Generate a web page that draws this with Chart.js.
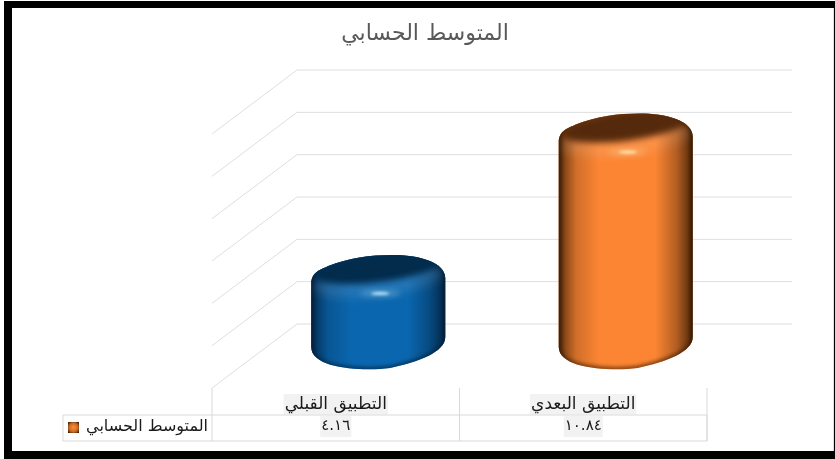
<!DOCTYPE html>
<html>
<head>
<meta charset="utf-8">
<script src="https://cdn.jsdelivr.net/npm/chart.js@4"></script>
<style>
html, body { margin: 0; background: #fff; }
#frame { position: absolute; left: 4px; top: 1px; width: 831px; height: 458px; background: #000; }
#inner { position: absolute; left: 12px; top: 8px; width: 821px; height: 443px; background: #fff; border-right: 1px solid #dcdcdc; }
#holder { position: absolute; left: 0; top: 0; width: 835px; height: 459px; }
</style>
</head>
<body>
<div id="frame"></div>
<div id="inner"></div>
<div id="holder"><canvas id="chart" width="835" height="459"></canvas></div>
<script>
const categories = ['التطبيق القبلي', 'التطبيق البعدي'];
const values = [4.16, 10.84];
const valueLabels = ['٤.١٦', '١٠.٨٤'];
const seriesName = 'المتوسط الحسابي';
const bodyColors = ['#0a66ae', '#fb8533'];
const edgeColors = ['#021f3a', '#3a1c05'];
const capColors = ['#022b4c', '#552a0c'];
const glowColors = ['#c8f0ff', '#fff0b8'];

const FONT = '"DejaVu Sans", sans-serif';
const DEPTH_X = 85, DEPTH_Y = 64;

// rounded outline of the drum, relative to the top and bottom centres
function drumPath(c, x, top, bottom) {
    c.beginPath();
    c.moveTo(x - 67, top + 16);
    c.bezierCurveTo(x - 67, top + 4, x - 58, top + 2, x - 50, top - 2);
    c.bezierCurveTo(x - 30, top - 10, x - 8, top - 13, x + 14, top - 13);
    c.bezierCurveTo(x + 40, top - 13, x + 67, top - 6, x + 67, top + 10);
    c.lineTo(x + 67, bottom - 19);
    c.bezierCurveTo(x + 67, bottom - 4, x + 40, bottom + 6, x + 12, bottom + 12);
    c.bezierCurveTo(x - 12, bottom + 15, x - 67, bottom + 14, x - 67, bottom - 9);
    c.closePath();
}

function paintDrum(c, x, top, bottom, i) {
    c.save();
    drumPath(c, x, top, bottom);
    c.fillStyle = bodyColors[i];
    c.fill();
    c.clip();

    // sides
    const side = c.createLinearGradient(x - 67, 0, x + 67, 0);
    side.addColorStop(0, edgeColors[i] + 'f0');
    side.addColorStop(0.05, edgeColors[i] + '90');
    side.addColorStop(0.13, edgeColors[i] + '38');
    side.addColorStop(0.3, edgeColors[i] + '00');
    side.addColorStop(0.72, edgeColors[i] + '00');
    side.addColorStop(0.88, edgeColors[i] + '60');
    side.addColorStop(0.96, edgeColors[i] + 'b8');
    side.addColorStop(1, edgeColors[i] + 'ff');
    c.fillStyle = side;
    c.fillRect(x - 70, top - 20, 140, bottom - top + 40);

    // soft dark rim along the outline
    c.filter = 'blur(2px)';
    drumPath(c, x, top, bottom);
    c.strokeStyle = edgeColors[i];
    c.lineWidth = 3;
    c.stroke();

    // lighter bevel under the lid
    c.filter = 'blur(5px)';
    c.fillStyle = 'rgba(255,255,255,0.1)';
    c.beginPath();
    c.ellipse(x, top + 12, 66, 17, -0.12, 0, Math.PI * 2);
    c.fill();

    // lid
    c.filter = 'blur(3px)';
    c.fillStyle = capColors[i];
    c.beginPath();
    c.ellipse(x + 1, top - 1, 66, 15, -0.13, 0, Math.PI * 2);
    c.fill();

    // highlight
    c.filter = 'blur(3px)';
    c.fillStyle = glowColors[i];
    c.globalAlpha = 0.5;
    c.beginPath();
    c.ellipse(x + 2, top + 25.5, 20, 2, 0, 0, Math.PI * 2);
    c.fill();
    c.filter = 'blur(1.5px)';
    c.globalAlpha = 1;
    c.beginPath();
    c.ellipse(x + 2, top + 25.5, 9, 1.4, 0, 0, Math.PI * 2);
    c.fill();
    c.restore();
}

const walls = {
    id: 'walls',
    beforeDatasetsDraw(chart) {
        const c = chart.ctx, y = chart.scales.y, a = chart.chartArea;
        c.save();
        c.strokeStyle = '#dedede';
        c.lineWidth = 1;
        y.ticks.forEach(t => {
            const py = y.getPixelForValue(t.value);
            c.beginPath();
            c.moveTo(a.left, py);
            c.lineTo(a.left + DEPTH_X, py - DEPTH_Y);
            c.lineTo(a.right + DEPTH_X, py - DEPTH_Y);
            c.stroke();
        });
        c.restore();
    },
    // the bars stand half way into the floor, painted as drums
    beforeDatasetDraw(chart, args) {
        args.meta.data.forEach((bar, i) => {
            paintDrum(chart.ctx, bar.x + DEPTH_X / 2, bar.y - DEPTH_Y / 2, bar.base - DEPTH_Y / 2, i);
        });
        return false;
    }
};

const dataTable = {
    id: 'dataTable',
    afterDraw(chart) {
        const c = chart.ctx, a = chart.chartArea, x = chart.scales.x;
        const rowTop = 415, rowBottom = 441, keyLeft = 63;
        const edges = [a.left, (a.left + a.right) / 2, a.right];
        c.save();
        c.strokeStyle = '#d9d9d9';
        c.lineWidth = 1;
        edges.forEach(e => {
            c.beginPath();
            c.moveTo(e, a.bottom);
            c.lineTo(e, rowBottom);
            c.stroke();
        });
        c.beginPath();
        c.rect(keyLeft, rowTop, a.right - keyLeft, rowBottom - rowTop);
        c.stroke();

        c.font = '15px ' + FONT;
        c.textAlign = 'center';
        c.textBaseline = 'middle';
        valueLabels.forEach((s, i) => {
            const px = x.getPixelForValue(i), w = c.measureText(s).width;
            c.fillStyle = '#f2f2f2';
            c.fillRect(px - w / 2 - 1, rowTop + 1, w + 2, 21);
            c.fillStyle = '#1a1a1a';
            c.fillText(s, px, 426);
        });
        c.font = '16px ' + FONT;
        c.textAlign = 'right';
        c.fillText(seriesName, 208, 427);

        // legend key
        const key = c.createRadialGradient(73.5, 427.5, 1, 73.5, 427.5, 7.5);
        key.addColorStop(0, bodyColors[1]);
        key.addColorStop(0.5, '#c96a26');
        key.addColorStop(1, '#2a1405');
        c.fillStyle = key;
        c.fillRect(68, 422, 11, 11);
        c.restore();
    }
};

new Chart(document.getElementById('chart'), {
    type: 'bar',
    data: {
        labels: categories,
        datasets: [{
            label: seriesName,
            data: values,
            backgroundColor: bodyColors,
            categoryPercentage: 1,
            barPercentage: 0.54,
            clip: false
        }]
    },
    options: {
        responsive: false,
        animation: false,
        layout: { padding: { left: 143, right: 128, top: 0, bottom: 0 } },
        plugins: {
            legend: { display: false },
            tooltip: { enabled: false },
            title: {
                display: true,
                text: seriesName,
                color: '#595959',
                font: { family: FONT, size: 22, weight: 'normal' },
                padding: { top: 21, bottom: 86.6 }
            }
        },
        scales: {
            x: {
                grid: { display: false, drawTicks: false },
                border: { display: false },
                ticks: {
                    color: '#1a1a1a',
                    font: { family: FONT, size: 17 },
                    padding: 6,
                    maxRotation: 0,
                    showLabelBackdrop: true,
                    backdropColor: '#f2f2f2',
                    backdropPadding: { left: 1, right: 1, top: 0, bottom: 0 }
                },
                afterFit(s) { s.height = 71; }
            },
            y: {
                min: 0,
                max: 12,
                ticks: { stepSize: 2, display: false },
                grid: { display: false },
                border: { display: false },
                afterFit(s) { s.width = 69; }
            }
        }
    },
    plugins: [walls, dataTable]
});
</script>
</body>
</html>
